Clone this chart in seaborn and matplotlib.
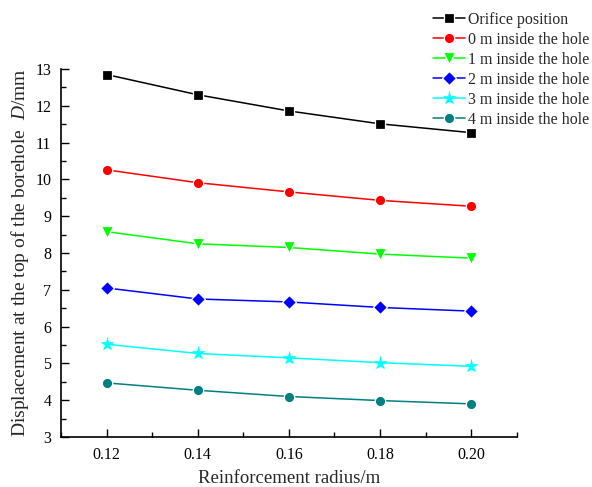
import matplotlib
matplotlib.use("Agg")
import matplotlib.pyplot as plt
import seaborn as sns
import pandas as pd
from matplotlib.ticker import MultipleLocator
from matplotlib.lines import Line2D

radius = [0.12, 0.14, 0.16, 0.18, 0.20]
orifice = [12.85, 12.30, 11.86, 11.51, 11.27]
m0 = [10.26, 9.91, 9.66, 9.43, 9.27]
m1 = [8.58, 8.25, 8.15, 7.97, 7.86]
m2 = [7.05, 6.75, 6.67, 6.52, 6.42]
m3 = [5.52, 5.27, 5.15, 5.02, 4.92]
m4 = [4.47, 4.27, 4.10, 3.99, 3.90]
series_names = ["Orifice position", "0 m inside the hole", "1 m inside the hole",
                "2 m inside the hole", "3 m inside the hole", "4 m inside the hole"]
series_vals = [orifice, m0, m1, m2, m3, m4]

colors = ["#000000", "#FF0000", "#00FF00", "#0000FF", "#00FFFF", "#008080"]
markers = ["s", "o", "v", "D", "*", "o"]
msizes = [7.5, 7.5, 8.5, 7, 9.5, 7.5]
edges = ["white", "white", "white", "white", "#00FFFF", "white"]
edgew = [0.9, 0.9, 0.9, 0.9, 0.5, 0.9]

sns.set_style("ticks")
plt.rcParams["font.family"] = ["Liberation Serif", "DejaVu Serif"]
plt.rcParams["mathtext.fontset"] = "custom"
plt.rcParams["mathtext.it"] = "Liberation Serif:italic"
plt.rcParams["mathtext.rm"] = "Liberation Serif"

rows = []
for name, vals in zip(series_names, series_vals):
    for r, v in zip(radius, vals):
        rows.append({"radius": r, "D": v, "series": name})
df = pd.DataFrame(rows)

fig = plt.figure(figsize=(5.92, 4.87), dpi=100)
ax = fig.add_axes([0.103, 0.1027, 0.770, 0.7556])

handles = []
for name, c, mk, ms, ec, ew in zip(series_names, colors, markers, msizes, edges, edgew):
    sub = df[df["series"] == name]
    sns.lineplot(data=sub, x="radius", y="D", ax=ax, color=c, marker=mk,
                 markersize=ms, markeredgecolor=ec, markerfacecolor=c,
                 markeredgewidth=ew, linewidth=1.1, legend=False)
    handles.append(Line2D([], [], color=c, marker=mk, markersize=ms, markeredgecolor=ec,
                          markerfacecolor=c, markeredgewidth=ew, linewidth=1.1, label=name))

ax.set_xlim(0.11, 0.21)
ax.set_ylim(3, 13)
ax.set_xticks(radius)
ax.set_xticklabels(["0.12", "0.14", "0.16", "0.18", "0.20"])
ax.xaxis.set_minor_locator(MultipleLocator(0.01))
ax.yaxis.set_major_locator(MultipleLocator(1))
ax.yaxis.set_minor_locator(MultipleLocator(0.5))
ax.tick_params(axis="both", which="both", direction="in", labelsize=11.5, width=1.0,
               colors="black")
ax.tick_params(which="major", length=6)
ax.tick_params(which="minor", length=3.5)
ax.tick_params(axis="y", which="major", pad=7)
ax.tick_params(axis="x", which="major", pad=7)
for s in ["top", "right"]:
    ax.spines[s].set_visible(False)
for s in ["left", "bottom"]:
    ax.spines[s].set_linewidth(1.2)
    ax.spines[s].set_color("black")

ax.set_xlabel("Reinforcement radius/m", fontsize=13.5, labelpad=5)
ax.set_ylabel(r"Displacement at the top of the borehole  $D$/mm", fontsize=14.0, labelpad=3)

fig.legend(handles=handles, loc="upper right", bbox_to_anchor=(1.012, 0.995),
           frameon=False, fontsize=11.4, handlelength=2.0, handletextpad=0.2,
           labelspacing=0.25, borderaxespad=0.2)

fig.savefig("out.png", dpi=100)
